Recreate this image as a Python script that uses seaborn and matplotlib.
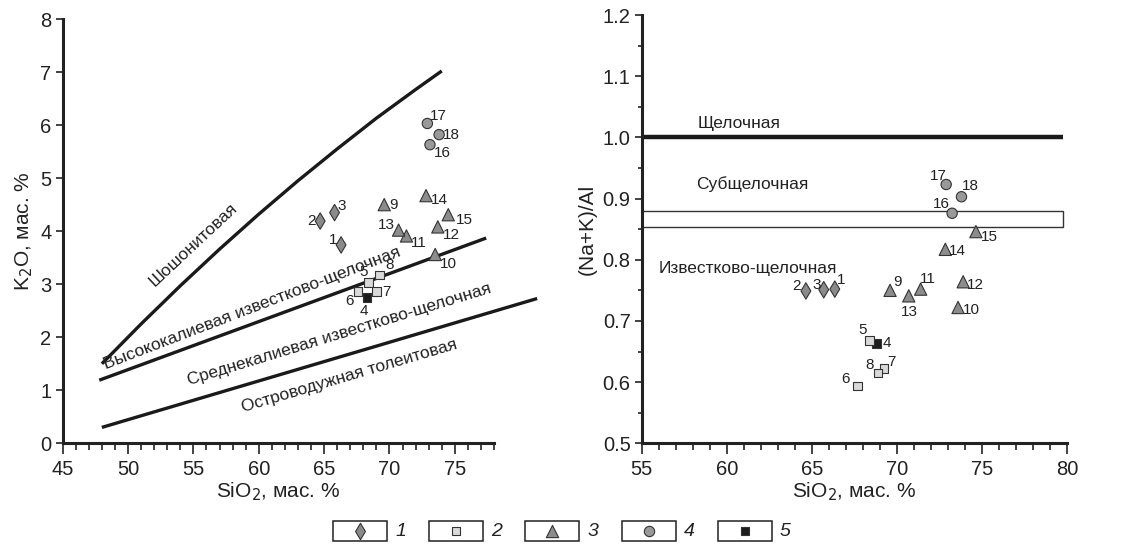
import numpy as np
import pandas as pd
import seaborn as sns
import matplotlib.pyplot as plt
from matplotlib.patches import Rectangle

# samples 1..18 and their rock group (legend 1-5)
sample = list(range(1, 19))
group = ["1", "1", "1", "5", "2", "2", "2", "2", "3", "3", "3", "3", "3", "3", "3", "4", "4", "4"]
sio2_k = [66.3, 64.7, 65.8, 68.3, 68.4, 67.6, 69.0, 69.25, 69.6, 73.5, 71.3, 73.7, 70.7, 72.8, 74.5, 73.1, 72.9, 73.8]
k2o = [3.74, 4.19, 4.35, 2.75, 3.03, 2.86, 2.86, 3.17, 4.5, 3.56, 3.91, 4.08, 4.02, 4.67, 4.31, 5.63, 6.03, 5.82]
sio2_a = [66.35, 64.65, 65.7, 68.8, 68.4, 67.7, 69.25, 68.9, 69.6, 73.6, 71.4, 73.9, 70.7, 72.85, 74.65, 73.25, 72.9, 73.8]
nka = [0.752, 0.749, 0.751, 0.663, 0.668, 0.594, 0.622, 0.615, 0.75, 0.722, 0.752, 0.764, 0.741, 0.817, 0.846, 0.876, 0.923, 0.903]

# Peccerillo & Taylor boundaries
sho_x = [48, 51, 54, 57, 60, 63, 66, 69, 72, 74]
sho_y = [1.5, 2.25, 2.97, 3.66, 4.32, 4.95, 5.55, 6.13, 6.67, 7.02]
hk_x = [47.8, 77.4]
hk_y = [1.19, 3.87]
th_x = [48, 81.3]
th_y = [0.3, 2.73]

# (Na+K)/Al boundaries
alk_level = 1.0
sub_band = (0.854, 0.879)
x_end = 79.8

df = pd.DataFrame({"n": sample, "group": group, "sio2_k": sio2_k, "k2o": k2o,
                   "sio2_a": sio2_a, "nka": nka})

sns.set_theme(style="ticks")
plt.rcParams["font.family"] = ["Liberation Sans", "DejaVu Sans"]
ink = "#222222"

pal = {"1": "#8a8a8a", "2": "#d9d9d9", "3": "#8c8c8c", "4": "#999999", "5": "#1c1c1c"}
mk = {"1": "d", "2": "s", "3": "^", "4": "o", "5": "s"}
sz = {"1": 70, "2": 38, "3": 78, "4": 55, "5": 36}

off_k = [(-8, 5), (-9, 0), (7, 7), (-3, -14), (-5, 11), (-9, -9), (10, 0), (10, 10), (9, 0),
         (13, -10), (12, -7), (14, -8), (-12, 5), (13, -4), (16, -5), (12, -8), (11, 7), (12, 0)]
off_a = [(6, 9), (-9, 5), (-7, 5), (10, 1), (-7, 11), (-12, 7), (7, 7), (-9, 8), (7, 8),
         (13, -3), (7, 10), (12, -3), (1, -16), (12, -2), (13, -5), (-11, 9), (-8, 8), (9, 11)]

fig = plt.figure(figsize=(11.31, 5.54), dpi=100)
ax1 = fig.add_axes([0.0554, 0.1998, 0.3814, 0.7659])
ax2 = fig.add_axes([0.5675, 0.1998, 0.3758, 0.7731])

for ax in (ax1, ax2):
    for s in ("top", "right"):
        ax.spines[s].set_visible(False)
    for s in ("left", "bottom"):
        ax.spines[s].set_linewidth(2.2)
        ax.spines[s].set_color(ink)
    ax.tick_params(which="both", direction="out", width=1.2, color=ink,
                   labelsize=14.5, labelcolor=ink)
    ax.tick_params(axis="x", which="major", length=8, pad=4)
    ax.tick_params(axis="x", which="minor", length=5)
    ax.tick_params(axis="y", which="major", length=5, pad=3)
    ax.tick_params(axis="y", which="minor", length=3)

# ---- left: K2O vs SiO2
for xs, ys in ((sho_x, sho_y), (hk_x, hk_y), (th_x, th_y)):
    ax1.plot(xs, ys, color="#1a1a1a", lw=2.4, solid_capstyle="butt", clip_on=False)

sns.scatterplot(data=df, x="sio2_k", y="k2o", hue="group", style="group", size="group",
                palette=pal, markers=mk, sizes=sz, edgecolor="#333333", linewidth=0.8,
                legend=False, ax=ax1, zorder=3)
for n, x, y, o in zip(sample, sio2_k, k2o, off_k):
    ax1.annotate(str(n), (x, y), xytext=o, textcoords="offset pixels", ha="center",
                 va="center", fontsize=11, color=ink)

ax1.text(55.0, 3.75, "Шошонитовая", rotation=43, rotation_mode="anchor",
         ha="center", va="center", fontsize=12.5, color=ink)
ax1.text(59.5, 2.55, "Высококалиевая известково-щелочная", rotation=21,
         rotation_mode="anchor", ha="center", va="center", fontsize=12.5, color=ink)
ax1.text(66.2, 2.05, "Среднекалиевая известково-щелочная", rotation=17,
         rotation_mode="anchor", ha="center", va="center", fontsize=12.5, color=ink)
ax1.text(66.9, 1.27, "Островодужная толеитовая", rotation=16.5,
         rotation_mode="anchor", ha="center", va="center", fontsize=12.5, color=ink)

ax1.set_xlim(45, 78)
ax1.set_ylim(0, 8)
ax1.set_xticks(range(45, 80, 5))
ax1.set_xticks(range(45, 79), minor=True)
ax1.set_yticks(range(0, 9))
ax1.set_xlabel("SiO$_2$, мас. %", fontsize=15, color=ink, labelpad=1)
ax1.set_ylabel("K$_2$O, мас. %", fontsize=15, color=ink, labelpad=4)

# ---- right: (Na+K)/Al vs SiO2
ax2.plot([55, x_end], [alk_level, alk_level], color="#1a1a1a", lw=3.2, solid_capstyle="butt")
ax2.add_patch(Rectangle((55, sub_band[0]), x_end - 55, sub_band[1] - sub_band[0],
                        fill=False, edgecolor="#333333", lw=1.0))
sns.scatterplot(data=df, x="sio2_a", y="nka", hue="group", style="group", size="group",
                palette=pal, markers=mk, sizes=sz, edgecolor="#333333", linewidth=0.8,
                legend=False, ax=ax2, zorder=3)
for n, x, y, o in zip(sample, sio2_a, nka, off_a):
    ax2.annotate(str(n), (x, y), xytext=o, textcoords="offset pixels", ha="center",
                 va="center", fontsize=11, color=ink)

ax2.text(58.3, 1.023, "Щелочная", ha="left", va="center", fontsize=12.5, color=ink)
ax2.text(58.2, 0.923, "Субщелочная", ha="left", va="center", fontsize=12.5, color=ink)
ax2.text(56.0, 0.785, "Известково-щелочная", ha="left", va="center", fontsize=12.5, color=ink)

ax2.set_xlim(55, 80)
ax2.set_ylim(0.5, 1.2)
ax2.set_xticks(range(55, 81, 5))
ax2.set_xticks(range(55, 81), minor=True)
ax2.set_yticks(np.arange(0.5, 1.21, 0.1))
ax2.set_yticks(np.arange(0.5, 1.21, 0.05), minor=True)
ax2.yaxis.set_major_formatter(plt.FormatStrFormatter("%.1f"))
ax2.set_xlabel("SiO$_2$, мас. %", fontsize=15, color=ink, labelpad=1)
ax2.set_ylabel("(Na+K)/Al", fontsize=15, color=ink, labelpad=4)

# ---- legend row of boxed symbols
lax = fig.add_axes([0, 0, 1, 1], zorder=-1)
lax.set_xlim(0, 1131)
lax.set_ylim(554, 0)
lax.axis("off")
for i, g in enumerate(["1", "2", "3", "4", "5"]):
    cx = 360 + i * 96.2
    lax.add_patch(Rectangle((cx - 27, 521), 54, 19.5, fill=False, edgecolor=ink, lw=1.1))
    lax.scatter([cx], [530.5], marker=mk[g], s=sz[g], c=pal[g], edgecolors="#333333",
                linewidths=0.8)
    lax.text(cx + 35, 531, g, ha="left", va="center", fontsize=14, style="italic", color=ink)

fig.savefig("out.png", dpi=100)
